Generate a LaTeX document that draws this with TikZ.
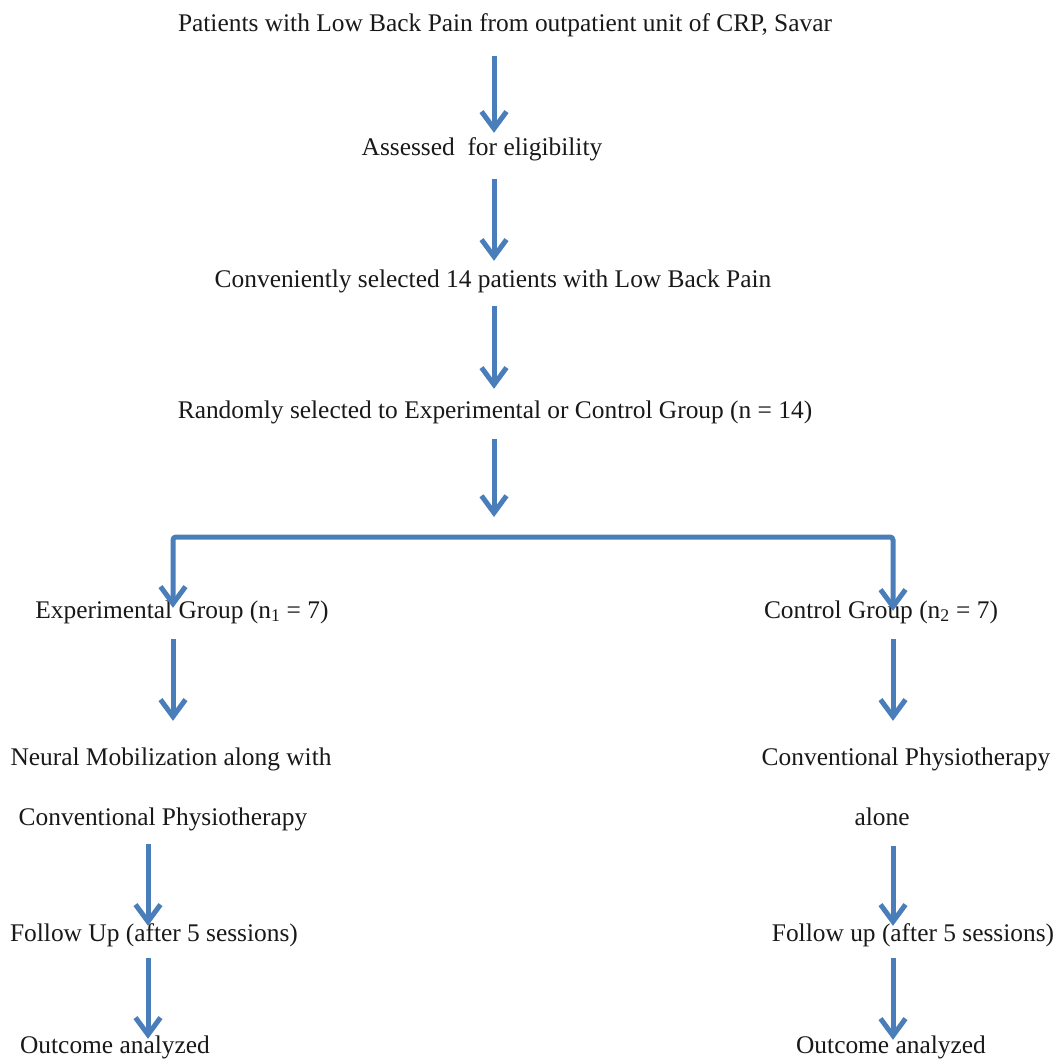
\documentclass[tikz,border=0pt]{standalone}
\usepackage{fontspec}
\setmainfont{Liberation Serif}
\usetikzlibrary{arrows.meta}
\definecolor{arrowblue}{RGB}{74,126,187}
\definecolor{txt}{RGB}{25,25,25}
\begin{document}
\begin{tikzpicture}[x=1pt,y=-1pt,
  lbl/.style={anchor=base,inner sep=0pt,text height=0.7em,text depth=0.22em,
    font=\fontsize{25.4}{30}\selectfont,text=txt},
  arr/.style={draw=arrowblue,line width=5pt,
    -{Straight Barb[length=17pt,width=25pt,line width=5pt]}},
  branch/.style={draw=arrowblue,line width=5pt,rounded corners=3pt,
    -{Straight Barb[length=17pt,width=25pt,line width=5pt]}}]
\useasboundingbox[fill=white] (0,0) rectangle (1058,1059);
% columns
\coordinate (cm) at (494,0);
\coordinate (cl) at (173,0);
\coordinate (cll) at (148,0);
\coordinate (cr) at (893,0);
% texts
\node[lbl] (n1) at (505,32) {Patients with Low Back Pain from outpatient unit of CRP, Savar};
\node[lbl] (n2) at (482,156) {Assessed~ for eligibility};
\node[lbl] (n3) at (493,287) {Conveniently selected 14 patients with Low Back Pain};
\node[lbl] (n4) at (495,418) {Randomly selected to Experimental or Control Group (n = 14)};
\coordinate (split) at (494,537);
\node[lbl] (exp) at (182,618) {Experimental Group (n\textsubscript{1} = 7)};
\node[lbl] (ctl) at (881,618) {Control Group (n\textsubscript{2} = 7)};
\node[lbl] (neu) at (171,765) {Neural Mobilization along with};
\node[lbl] (convl) at (163,825) {Conventional Physiotherapy};
\node[lbl] (convr) at (906,765) {Conventional Physiotherapy};
\node[lbl] (alone) at (882,825) {alone};
\node[lbl] (fupl) at (154,941) {Follow Up (after 5 sessions)};
\node[lbl] (fupr) at (913,941) {Follow up (after 5 sessions)};
\node[lbl] (outl) at (115,1053) {Outcome analyzed};
\node[lbl] (outr) at (891,1053) {Outcome analyzed};
% connectors
\draw[arr,shorten <=22pt,shorten >=16pt] (n1.south -| cm) -- (n2.north -| cm);
\draw[arr,shorten <=21pt,shorten >=19pt] (n2.south -| cm) -- (n3.north -| cm);
\draw[arr,shorten <=17pt,shorten >=22pt] (n3.south -| cm) -- (n4.north -| cm);
\draw[arr,shorten <=19pt,shorten >=20pt] (n4.south -| cm) -- (split);
\draw[branch,shorten >=3pt] (split) -| (exp.north -| cl);
\draw[branch] (split) -| (ctl.north -| cr);
\draw[arr,shorten <=19pt,shorten >=37pt] (exp.south -| cl) -- (neu.north -| cl);
\draw[arr,shorten <=19pt,shorten >=37pt] (ctl.south -| cr) -- (convr.north -| cr);
\draw[arr,shorten <=17pt,shorten >=8pt] (convl.south -| cll) -- (fupl.north -| cll);
\draw[arr,shorten <=19pt,shorten >=8pt] (alone.south -| cr) -- (fupr.north -| cr);
\draw[arr,shorten <=15pt,shorten >=7pt] (fupl.south -| cll) -- (outl.north -| cll);
\draw[arr,shorten <=15pt,shorten >=6pt] (fupr.south -| cr) -- (outr.north -| cr);
\end{tikzpicture}
\end{document}
